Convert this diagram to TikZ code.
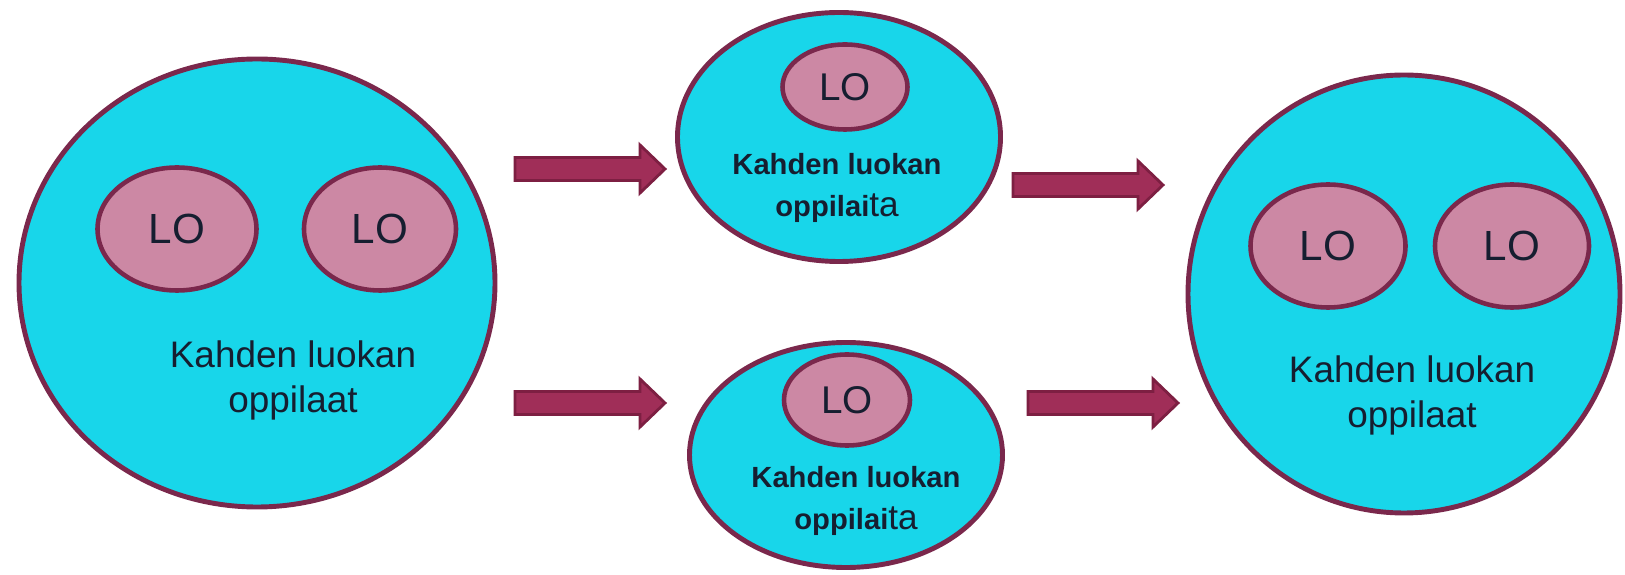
\documentclass[tikz,border=0pt]{standalone}
\usepackage{fontspec}
\setmainfont{Liberation Sans}
\usetikzlibrary{shapes.geometric}

\definecolor{groupcyan}{RGB}{24,214,234}
\definecolor{rimred}{RGB}{122,40,76}
\definecolor{lopink}{RGB}{204,136,164}
\definecolor{arrowred}{RGB}{160,46,88}
\definecolor{arrowrim}{RGB}{125,31,66}
\definecolor{labelink}{RGB}{22,30,48}

% block arrow, tail at the given coordinate
\newcommand{\flowarrow}[1]{%
  \draw[blockarrow] ([yshift=1.15mm]#1) -- ++(1.25,0) -- ++(0,0.125) -- ++(0.25,-0.24)
    -- ++(-0.25,-0.24) -- ++(0,0.125) -- ++(-1.25,0) -- cycle;}

\begin{document}
\begin{tikzpicture}[
  group/.style={ellipse, draw=rimred, line width=1.4pt, fill=groupcyan, inner sep=0pt},
  lo/.style={ellipse, draw=rimred, line width=1.3pt, fill=lopink, inner sep=0pt, text=labelink},
  biglabel/.style={align=center, text=labelink, font=\fontsize{10.5}{12.8}\selectfont},
  smalllabel/.style={align=center, text=labelink, font=\fontsize{8.3}{12.2}\selectfont\bfseries},
  blockarrow/.style={fill=arrowred, draw=arrowrim, line width=0.8pt, line join=miter}
]
\useasboundingbox (0,0) rectangle (16.25,-5.75);

% Left group
\node[group, minimum width=4.76cm, minimum height=4.48cm] (left) at (2.57,-2.83) {};
\node[lo, minimum width=1.59cm, minimum height=1.23cm, font=\fontsize{12}{14}\selectfont] (leftlo1) at (1.77,-2.29) {LO};
\node[lo, minimum width=1.52cm, minimum height=1.23cm, font=\fontsize{12}{14}\selectfont] (leftlo2) at (3.80,-2.29) {LO};
\node[biglabel] (lefttext) at (2.93,-3.80) {Kahden luokan\\oppilaat};

% Middle groups
\node[group, minimum width=3.23cm, minimum height=2.49cm] (midtop) at (8.39,-1.37) {};
\node[lo, minimum width=1.25cm, minimum height=0.85cm, font=\fontsize{11}{13}\selectfont] (midtoplo) at (8.45,-0.87) {LO};
\node[smalllabel] (midtoptext) at (8.37,-1.88) {Kahden luokan\\oppilai{\mdseries\fontsize{10}{12}\selectfont ta}};

\node[group, minimum width=3.13cm, minimum height=2.25cm] (midbot) at (8.46,-4.55) {};
\node[lo, minimum width=1.26cm, minimum height=0.91cm, font=\fontsize{11}{13}\selectfont] (midbotlo) at (8.47,-4.00) {LO};
\node[smalllabel] (midbottext) at (8.56,-5.01) {Kahden luokan\\oppilai{\mdseries\fontsize{10}{12}\selectfont ta}};

% Right group
\node[group, minimum width=4.32cm, minimum height=4.38cm] (right) at (14.04,-2.94) {};
\node[lo, minimum width=1.55cm, minimum height=1.23cm, font=\fontsize{12}{14}\selectfont] (rightlo1) at (13.28,-2.46) {LO};
\node[lo, minimum width=1.54cm, minimum height=1.23cm, font=\fontsize{12}{14}\selectfont] (rightlo2) at (15.12,-2.46) {LO};
\node[biglabel] (righttext) at (14.12,-3.95) {Kahden luokan\\oppilaat};

% Arrows
\coordinate (split1) at (5.15,-1.69);
\coordinate (split2) at (5.15,-4.03);
\coordinate (join1) at (10.13,-1.85);
\coordinate (join2) at (10.28,-4.03);
\flowarrow{split1}
\flowarrow{split2}
\flowarrow{join1}
\flowarrow{join2}

\end{tikzpicture}
\end{document}
